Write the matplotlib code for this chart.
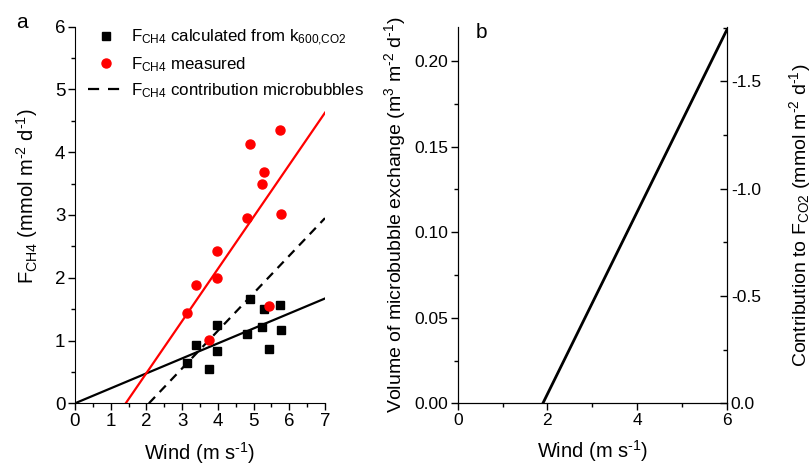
import matplotlib
matplotlib.use("Agg")
import matplotlib.pyplot as plt
from matplotlib.ticker import MultipleLocator, FormatStrFormatter

plt.rcParams['font.family'] = ['Liberation Sans', 'DejaVu Sans']
plt.rcParams['mathtext.fontset'] = 'custom'
plt.rcParams['mathtext.rm'] = 'Liberation Sans'
plt.rcParams['mathtext.it'] = 'Liberation Sans:italic'
plt.rcParams['mathtext.default'] = 'regular'
plt.rcParams['axes.unicode_minus'] = False

# ---- Panel a data ----
wind_calc = [3.15, 3.38, 3.76, 3.97, 3.98, 4.81, 4.90, 5.24, 5.30, 5.42, 5.74, 5.77]
flux_calc = [0.65, 0.93, 0.54, 0.84, 1.24, 1.11, 1.66, 1.21, 1.51, 0.86, 1.57, 1.16]
wind_meas = [3.15, 3.38, 3.76, 3.97, 3.98, 4.81, 4.90, 5.24, 5.30, 5.42, 5.74, 5.77]
flux_meas = [1.44, 1.88, 1.01, 2.00, 2.42, 2.96, 4.13, 3.49, 3.69, 1.55, 4.36, 3.02]
fit_calc_x = [0.0, 7.0]
fit_calc_y = [0.0, 1.67]
fit_meas_x = [1.42, 7.0]
fit_meas_y = [0.0, 4.63]
bubble_x = [2.07, 7.0]
bubble_y = [0.0, 2.95]

# ---- Panel b data ----
wind_b = [1.9, 6.0]
volume_b = [0.0, 0.218]

M1 = r'$^{\text{-}1}$'
M2 = r'$^{\text{-}2}$'

fig = plt.figure(figsize=(8.12, 4.66), dpi=100)
W, H = 812, 466

def rect(l, r, t, b):
    return [l / W, 1 - b / H, (r - l) / W, (b - t) / H]

axa = fig.add_axes(rect(75, 325, 26.7, 403.3))
axb = fig.add_axes(rect(457.7, 726.7, 26.7, 403.3))

DASH = (0, (4, 3))

# Panel a
axa.plot(fit_calc_x, fit_calc_y, color='black', lw=1.6)
axa.plot(fit_meas_x, fit_meas_y, color='red', lw=1.6)
axa.plot(bubble_x, bubble_y, color='black', lw=1.6, linestyle=DASH)
h1, = axa.plot(wind_calc, flux_calc, 's', color='black', ms=5.2, lw=0,
               label=r'$F_{CH4}$ calculated from k$_{600{,}CO2}$')
h2, = axa.plot(wind_meas, flux_meas, 'o', color='red', ms=6.5, lw=0,
               label=r'$F_{CH4}$ measured')
h3, = axa.plot([], [], color='black', lw=1.6, linestyle=(0, (5, 4)),
               label=r'$F_{CH4}$ contribution microbubbles')
axa.set_xlim(0, 7)
axa.set_ylim(0, 6)
axa.xaxis.set_major_locator(MultipleLocator(1))
axa.xaxis.set_minor_locator(MultipleLocator(0.5))
axa.yaxis.set_major_locator(MultipleLocator(1))
axa.yaxis.set_minor_locator(MultipleLocator(0.5))
axa.spines['top'].set_visible(False)
axa.spines['right'].set_visible(False)
axa.tick_params(which='major', direction='out', length=5, width=1, labelsize=13.5, pad=2)
axa.tick_params(which='minor', direction='out', length=3, width=1)
axa.set_xlabel('Wind (m s' + M1 + ')', fontsize=14.5, labelpad=7)
axa.set_ylabel(r'$F_{CH4}$ (mmol m' + M2 + ' d' + M1 + ')', fontsize=14.5)
axa.yaxis.set_label_coords(-0.14, 0.55)
leg = axa.legend(handles=[h1, h2, h3], loc='upper left', bbox_to_anchor=(0.012, 1.024),
                 frameon=False, fontsize=12.2, handlelength=2.1, handletextpad=0.4,
                 labelspacing=0.42, numpoints=1, borderaxespad=0.2)
fig.text(22 / W, 1 - 22 / H, 'a', fontsize=15, ha='center', va='center')

# Panel b
axb.plot(wind_b, volume_b, color='black', lw=2)
axb.set_xlim(0, 6)
axb.set_ylim(0, 0.22)
axb.xaxis.set_major_locator(MultipleLocator(2))
axb.xaxis.set_minor_locator(MultipleLocator(1))
axb.yaxis.set_major_locator(MultipleLocator(0.05))
axb.yaxis.set_minor_locator(MultipleLocator(0.025))
axb.yaxis.set_major_formatter(FormatStrFormatter('%.2f'))
axb.spines['top'].set_visible(False)
axb.tick_params(which='major', direction='out', length=5, width=1, labelsize=12.5, pad=2)
axb.tick_params(which='minor', direction='out', length=3, width=1)
axb.tick_params(axis='y', which='both', right=False)
axb.set_xlabel('Wind (m s' + M1 + ')', fontsize=14.5, labelpad=7)
axb.set_ylabel('Volume of microbubble exchange (m$^{3}$ m' + M2 + ' d' + M1 + ')',
               fontsize=14, labelpad=4)
axb.text(0.09, 0.985, 'b', transform=axb.transAxes, fontsize=15, ha='center', va='center')

axr = axb.twinx()
axr.set_ylim(0, -1.755)
axr.yaxis.set_major_locator(MultipleLocator(0.5))
axr.yaxis.set_minor_locator(MultipleLocator(0.25))
axr.yaxis.set_major_formatter(FormatStrFormatter('%.1f'))
axr.spines['top'].set_visible(False)
axr.tick_params(which='major', direction='in', length=5, width=1, labelsize=12.5, pad=3)
axr.tick_params(which='minor', direction='in', length=3, width=1)
axr.set_ylabel(r'Contribution to $F_{CO2}$ (mmol m' + M2 + ' d' + M1 + ')',
               fontsize=14, labelpad=19)

fig.savefig('out.png', dpi=100)
